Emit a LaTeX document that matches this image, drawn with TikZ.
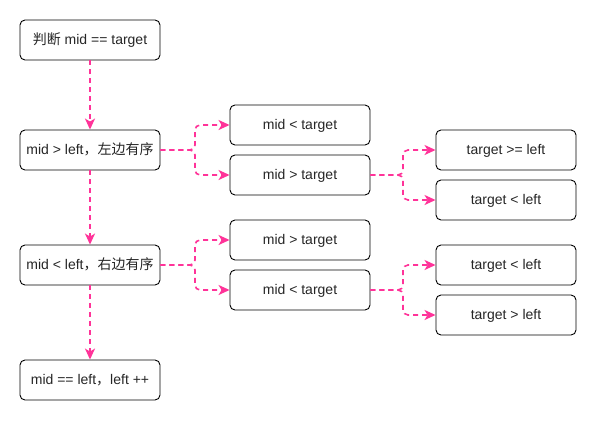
\documentclass[tikz,border=0pt]{standalone}
\usepackage{fontspec}
\setmainfont{Liberation Sans}
\newfontfamily\cjk{Noto Sans CJK SC}
\usetikzlibrary{arrows.meta}
\definecolor{pinkline}{HTML}{FF3399}
\begin{document}
\begin{tikzpicture}[x=1pt,y=-1pt,
  box/.style={draw=black,line width=0.9pt,rounded corners=5pt,minimum width=140pt,minimum height=40pt,inner sep=0pt,text height=10pt,text depth=0.5pt,font=\fontsize{14}{16}\selectfont,text=black!85},
  conn/.style={draw=pinkline,line width=1.6pt,dash pattern=on 5pt off 4pt,rounded corners=5pt,-{Stealth[length=11pt,width=10pt,inset=3pt]}}]
\useasboundingbox[fill=white] (0,0) rectangle (597,421);
\node[box] (a) at (90,40) {{\cjk 判断} mid == target};
\node[box] (b) at (90,150) {mid > left{\cjk ，左边有序}};
\node[box] (c) at (90,265) {mid < left{\cjk ，右边有序}};
\node[box] (d) at (90,380) {mid == left{\cjk ，}left ++};
\node[box] (e1) at (300,125) {mid < target};
\node[box] (e2) at (300,175) {mid > target};
\node[box] (f1) at (506,150) {target >= left};
\node[box] (f2) at (506,200) {target < left};
\node[box] (g1) at (300,240) {mid > target};
\node[box] (g2) at (300,290) {mid < target};
\node[box] (h1) at (506,265) {target < left};
\node[box] (h2) at (506,315) {target > left};
\draw[conn] (a) -- (b);
\draw[conn] (b) -- (c);
\draw[conn] (c) -- (d);
\draw[conn] (b.east) -- (195,150) |- (e1.west);
\draw[conn] (b.east) -- (195,150) |- (e2.west);
\draw[conn] (c.east) -- (195,265) |- (g1.west);
\draw[conn] (c.east) -- (195,265) |- (g2.west);
\draw[conn] (e2.east) -- (403,175) |- (f1.west);
\draw[conn] (e2.east) -- (403,175) |- (f2.west);
\draw[conn] (g2.east) -- (403,290) |- (h1.west);
\draw[conn] (g2.east) -- (403,290) |- (h2.west);
\end{tikzpicture}
\end{document}
